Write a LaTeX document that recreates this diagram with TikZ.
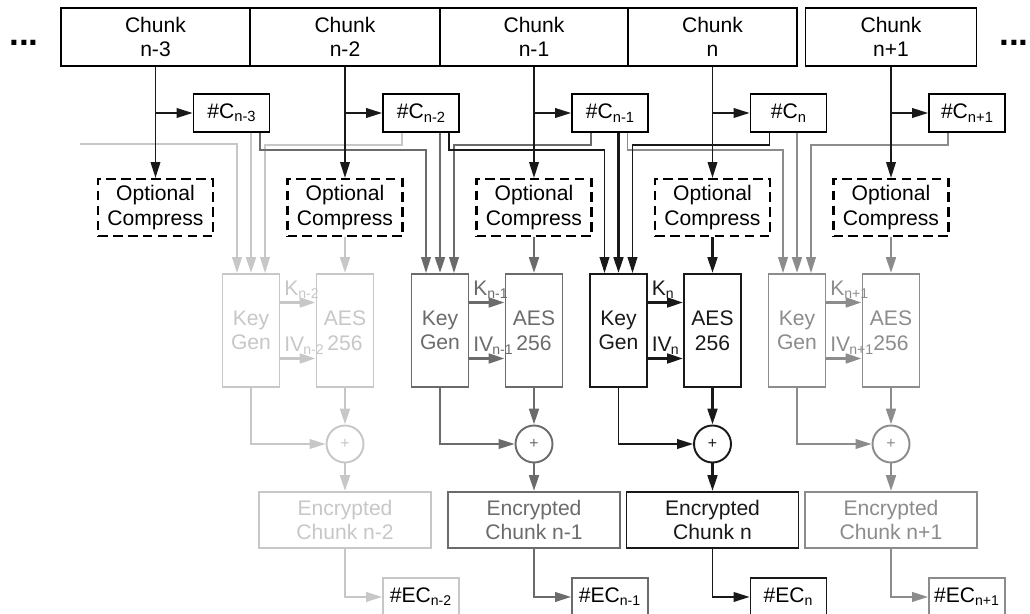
\documentclass[tikz,border=0pt]{standalone}
\usepackage{fontspec}
\setmainfont{Liberation Sans}
\usetikzlibrary{arrows.meta}

\colorlet{tonepale}{black!22}
\colorlet{tonegrey}{black!58}
\colorlet{tonedark}{black!90}
\colorlet{tonesoft}{black!45}
\newcommand{\hashsub}[1]{\raisebox{-.3ex}{\fontsize{8.4}{8.4}\selectfont #1}}

\tikzset{
  box/.style={draw,line width=1.1pt,inner sep=0pt,align=center},
  chunkbox/.style={box,minimum height=1.16cm},
  hashbox/.style={box,minimum width=1.52cm,minimum height=.76cm},
  compbox/.style={box,line width=1.25pt,dash pattern=on 5.5pt off 3pt,minimum width=2.3cm,minimum height=1.14cm},
  cryptbox/.style={box,minimum width=1.14cm,minimum height=2.26cm},
  xorbox/.style={box,circle,minimum size=.74cm,font=\small},
  encbox/.style={box,minimum width=3.44cm,minimum height=1.12cm},
  wire/.style={line width=.8pt,-{Triangle[length=9pt,width=5.5pt]}},
  feed/.style={wire,line width=1.4pt},
  tag/.style={inner sep=1.5pt,anchor=south west},
  dots/.style={font=\fontsize{20}{20}\bfseries\selectfont,anchor=west,inner sep=0pt},
}

\begin{document}
\begin{tikzpicture}[font=\fontsize{12}{14}\selectfont]
\useasboundingbox (0,0) rectangle (20.6,12.26);
% chunks
\node[chunkbox,minimum width=3.78cm] (ch3) at (3.11,11.52) {Chunk\\n-3};
\node[chunkbox,minimum width=3.80cm] (ch2) at (6.90,11.52) {Chunk\\n-2};
\node[chunkbox,minimum width=3.76cm] (ch1) at (10.68,11.52) {Chunk\\n-1};
\node[chunkbox,minimum width=3.38cm] (ch0) at (14.25,11.52) {Chunk\\n};
\node[chunkbox,minimum width=3.42cm] (chp) at (17.82,11.52) {Chunk\\n+1};
\node[dots] (dotl) at (0.18,11.40) {...};
\node[dots] (dotr) at (19.98,11.40) {...};
% chunk hashes
\node[hashbox] (h3) at (4.63,10.00) {\#C\hashsub{n-3}};
\node[hashbox] (h2) at (8.42,10.00) {\#C\hashsub{n-2}};
\node[hashbox] (h1) at (12.20,10.00) {\#C\hashsub{n-1}};
\node[hashbox] (h0) at (15.77,10.00) {\#C\hashsub{n}};
\node[hashbox] (hp) at (19.34,10.00) {\#C\hashsub{n+1}};
% compression
\node[compbox] (cp3) at (3.11,8.11) {Optional\\Compress};
\node[compbox] (cp2) at (6.90,8.11) {Optional\\Compress};
\node[compbox] (cp1) at (10.68,8.11) {Optional\\Compress};
\node[compbox] (cp0) at (14.25,8.11) {Optional\\Compress};
\node[compbox] (cpp) at (17.82,8.11) {Optional\\Compress};
% key generation and cipher
\node[cryptbox,tonepale] (kg2) at (5.02,5.65) {Key\\Gen};
\node[cryptbox,tonepale] (ae2) at (6.90,5.65) {AES\\256};
\node[cryptbox,tonegrey] (kg1) at (8.80,5.65) {Key\\Gen};
\node[cryptbox,tonegrey] (ae1) at (10.68,5.65) {AES\\256};
\node[cryptbox,tonedark] (kg0) at (12.37,5.65) {Key\\Gen};
\node[cryptbox,tonedark] (ae0) at (14.25,5.65) {AES\\256};
\node[cryptbox,tonesoft] (kgp) at (15.94,5.65) {Key\\Gen};
\node[cryptbox,tonesoft] (aep) at (17.82,5.65) {AES\\256};
% xor
\node[xorbox,tonepale] (xo2) at (6.90,3.38) {+};
\node[xorbox,tonegrey] (xo1) at (10.68,3.38) {+};
\node[xorbox,tonedark] (xo0) at (14.25,3.38) {+};
\node[xorbox,tonesoft] (xop) at (17.82,3.38) {+};
% encrypted chunks and their hashes
\node[encbox,tonepale] (en2) at (6.90,1.86) {Encrypted\\Chunk n-2};
\node[encbox,tonegrey] (en1) at (10.68,1.86) {Encrypted\\Chunk n-1};
\node[encbox,tonedark] (en0) at (14.25,1.86) {Encrypted\\Chunk n};
\node[encbox,tonesoft] (enp) at (17.82,1.86) {Encrypted\\Chunk n+1};
\node[hashbox,tonepale,text=black,anchor=north] (ec2) at (8.42,0.72) {\#EC\textsubscript{n-2}};
\node[hashbox,tonegrey,text=black,anchor=north] (ec1) at (12.20,0.72) {\#EC\textsubscript{n-1}};
\node[hashbox,tonedark,text=black,anchor=north] (ec0) at (15.77,0.72) {\#EC\textsubscript{n}};
\node[hashbox,tonesoft,text=black,anchor=north] (ecp) at (19.34,0.72) {\#EC\textsubscript{n+1}};

% column n-2
\coordinate (farin) at (1.60,9.38);
\draw[wire,tonepale] (farin) -| ([xshift=-.28cm]kg2.north);
\draw[feed,tonepale] (kg2.north |- h3.south) -- (kg2.north);
\draw[wire,tonepale] ([xshift=-.38cm]h2.south) -- ++(0,-.24) -| ([xshift=.28cm]kg2.north);
\draw[feed,tonepale] (cp2.south) -- (ae2.north);
\draw[feed,tonepale] ([yshift=.56cm]kg2.east) -- node[tag,pos=0]{K\textsubscript{n-2}} ([yshift=.56cm]ae2.west);
\draw[feed,tonepale] ([yshift=-.56cm]kg2.east) -- node[tag,pos=0]{IV\kern-.5pt\textsubscript{n-2}} ([yshift=-.56cm]ae2.west);
\draw[wire,tonepale] (kg2.south) |- (xo2.west);
\draw[feed,tonepale] (ae2.south) -- (xo2.north);
\draw[feed,tonepale] (xo2.south) -- (en2.north);
\draw[wire,tonepale] (en2.south) |- (ec2.west);

% column n+1
\draw[wire,tonesoft] ([xshift=.35cm]h1.south) -- ++(0,-.34) -| ([xshift=-.28cm]kgp.north);
\draw[feed,tonesoft] (kgp.north |- h0.south) -- (kgp.north);
\draw[wire,tonesoft] ([xshift=-.38cm]hp.south) -- ++(0,-.24) -| ([xshift=.28cm]kgp.north);
\draw[feed,tonesoft] (cpp.south) -- (aep.north);
\draw[feed,tonesoft] ([yshift=.56cm]kgp.east) -- node[tag,pos=0]{K\textsubscript{n+1}} ([yshift=.56cm]aep.west);
\draw[feed,tonesoft] ([yshift=-.56cm]kgp.east) -- node[tag,pos=0]{IV\kern-.5pt\textsubscript{n+1}} ([yshift=-.56cm]aep.west);
\draw[wire,tonesoft] (kgp.south) |- (xop.west);
\draw[feed,tonesoft] (aep.south) -- (xop.north);
\draw[feed,tonesoft] (xop.south) -- (enp.north);
\draw[wire,tonesoft] (enp.south) |- (ecp.west);

% column n-1
\draw[wire,tonegrey] ([xshift=.57cm]h3.south) -- ++(0,-.34) -| ([xshift=-.28cm]kg1.north);
\draw[feed,tonegrey] (kg1.north |- h2.south) -- (kg1.north);
\draw[wire,tonegrey] ([xshift=-.38cm]h1.south) -- ++(0,-.24) -| ([xshift=.28cm]kg1.north);
\draw[feed,tonegrey] (cp1.south) -- (ae1.north);
\draw[feed,tonegrey] ([yshift=.56cm]kg1.east) -- node[tag,pos=0]{K\textsubscript{n-1}} ([yshift=.56cm]ae1.west);
\draw[feed,tonegrey] ([yshift=-.56cm]kg1.east) -- node[tag,pos=0]{IV\kern-.5pt\textsubscript{n-1}} ([yshift=-.56cm]ae1.west);
\draw[wire,tonegrey] (kg1.south) |- (xo1.west);
\draw[feed,tonegrey] (ae1.south) -- (xo1.north);
\draw[feed,tonegrey] (xo1.south) -- (en1.north);
\draw[wire,tonegrey] (en1.south) |- (ec1.west);

% column n
\draw[wire,tonedark] ([xshift=.56cm]h2.south) -- ++(0,-.34) -| ([xshift=-.28cm]kg0.north);
\draw[feed,tonedark] (kg0.north |- h1.south) -- (kg0.north);
\draw[wire,tonedark] ([xshift=-.38cm]h0.south) -- ++(0,-.24) -| ([xshift=.28cm]kg0.north);
\draw[feed,tonedark] (cp0.south) -- (ae0.north);
\draw[feed,tonedark] ([yshift=.56cm]kg0.east) -- node[tag,pos=0]{K\textsubscript{n}} ([yshift=.56cm]ae0.west);
\draw[feed,tonedark] ([yshift=-.56cm]kg0.east) -- node[tag,pos=0]{IV\kern-.5pt\textsubscript{n}} ([yshift=-.56cm]ae0.west);
\draw[wire,tonedark] (kg0.south) |- (xo0.west);
\draw[feed,tonedark] (ae0.south) -- (xo0.north);
\draw[feed,tonedark] (xo0.south) -- (en0.north);
\draw[wire,tonedark] (en0.south) |- (ec0.west);

% chunk lines
\draw[wire,tonedark] (ch3.south) -- (cp3.north);
\draw[wire,tonedark] (ch2.south) -- (cp2.north);
\draw[wire,tonedark] (ch1.south) -- (cp1.north);
\draw[wire,tonedark] (ch0.south) -- (cp0.north);
\draw[wire,tonedark] (chp.south) -- (cpp.north);
\draw[wire,tonedark] (ch3.south |- h3.west) -- (h3.west);
\draw[wire,tonedark] (ch2.south |- h2.west) -- (h2.west);
\draw[wire,tonedark] (ch1.south |- h1.west) -- (h1.west);
\draw[wire,tonedark] (ch0.south |- h0.west) -- (h0.west);
\draw[wire,tonedark] (chp.south |- hp.west) -- (hp.west);
\end{tikzpicture}
\end{document}
